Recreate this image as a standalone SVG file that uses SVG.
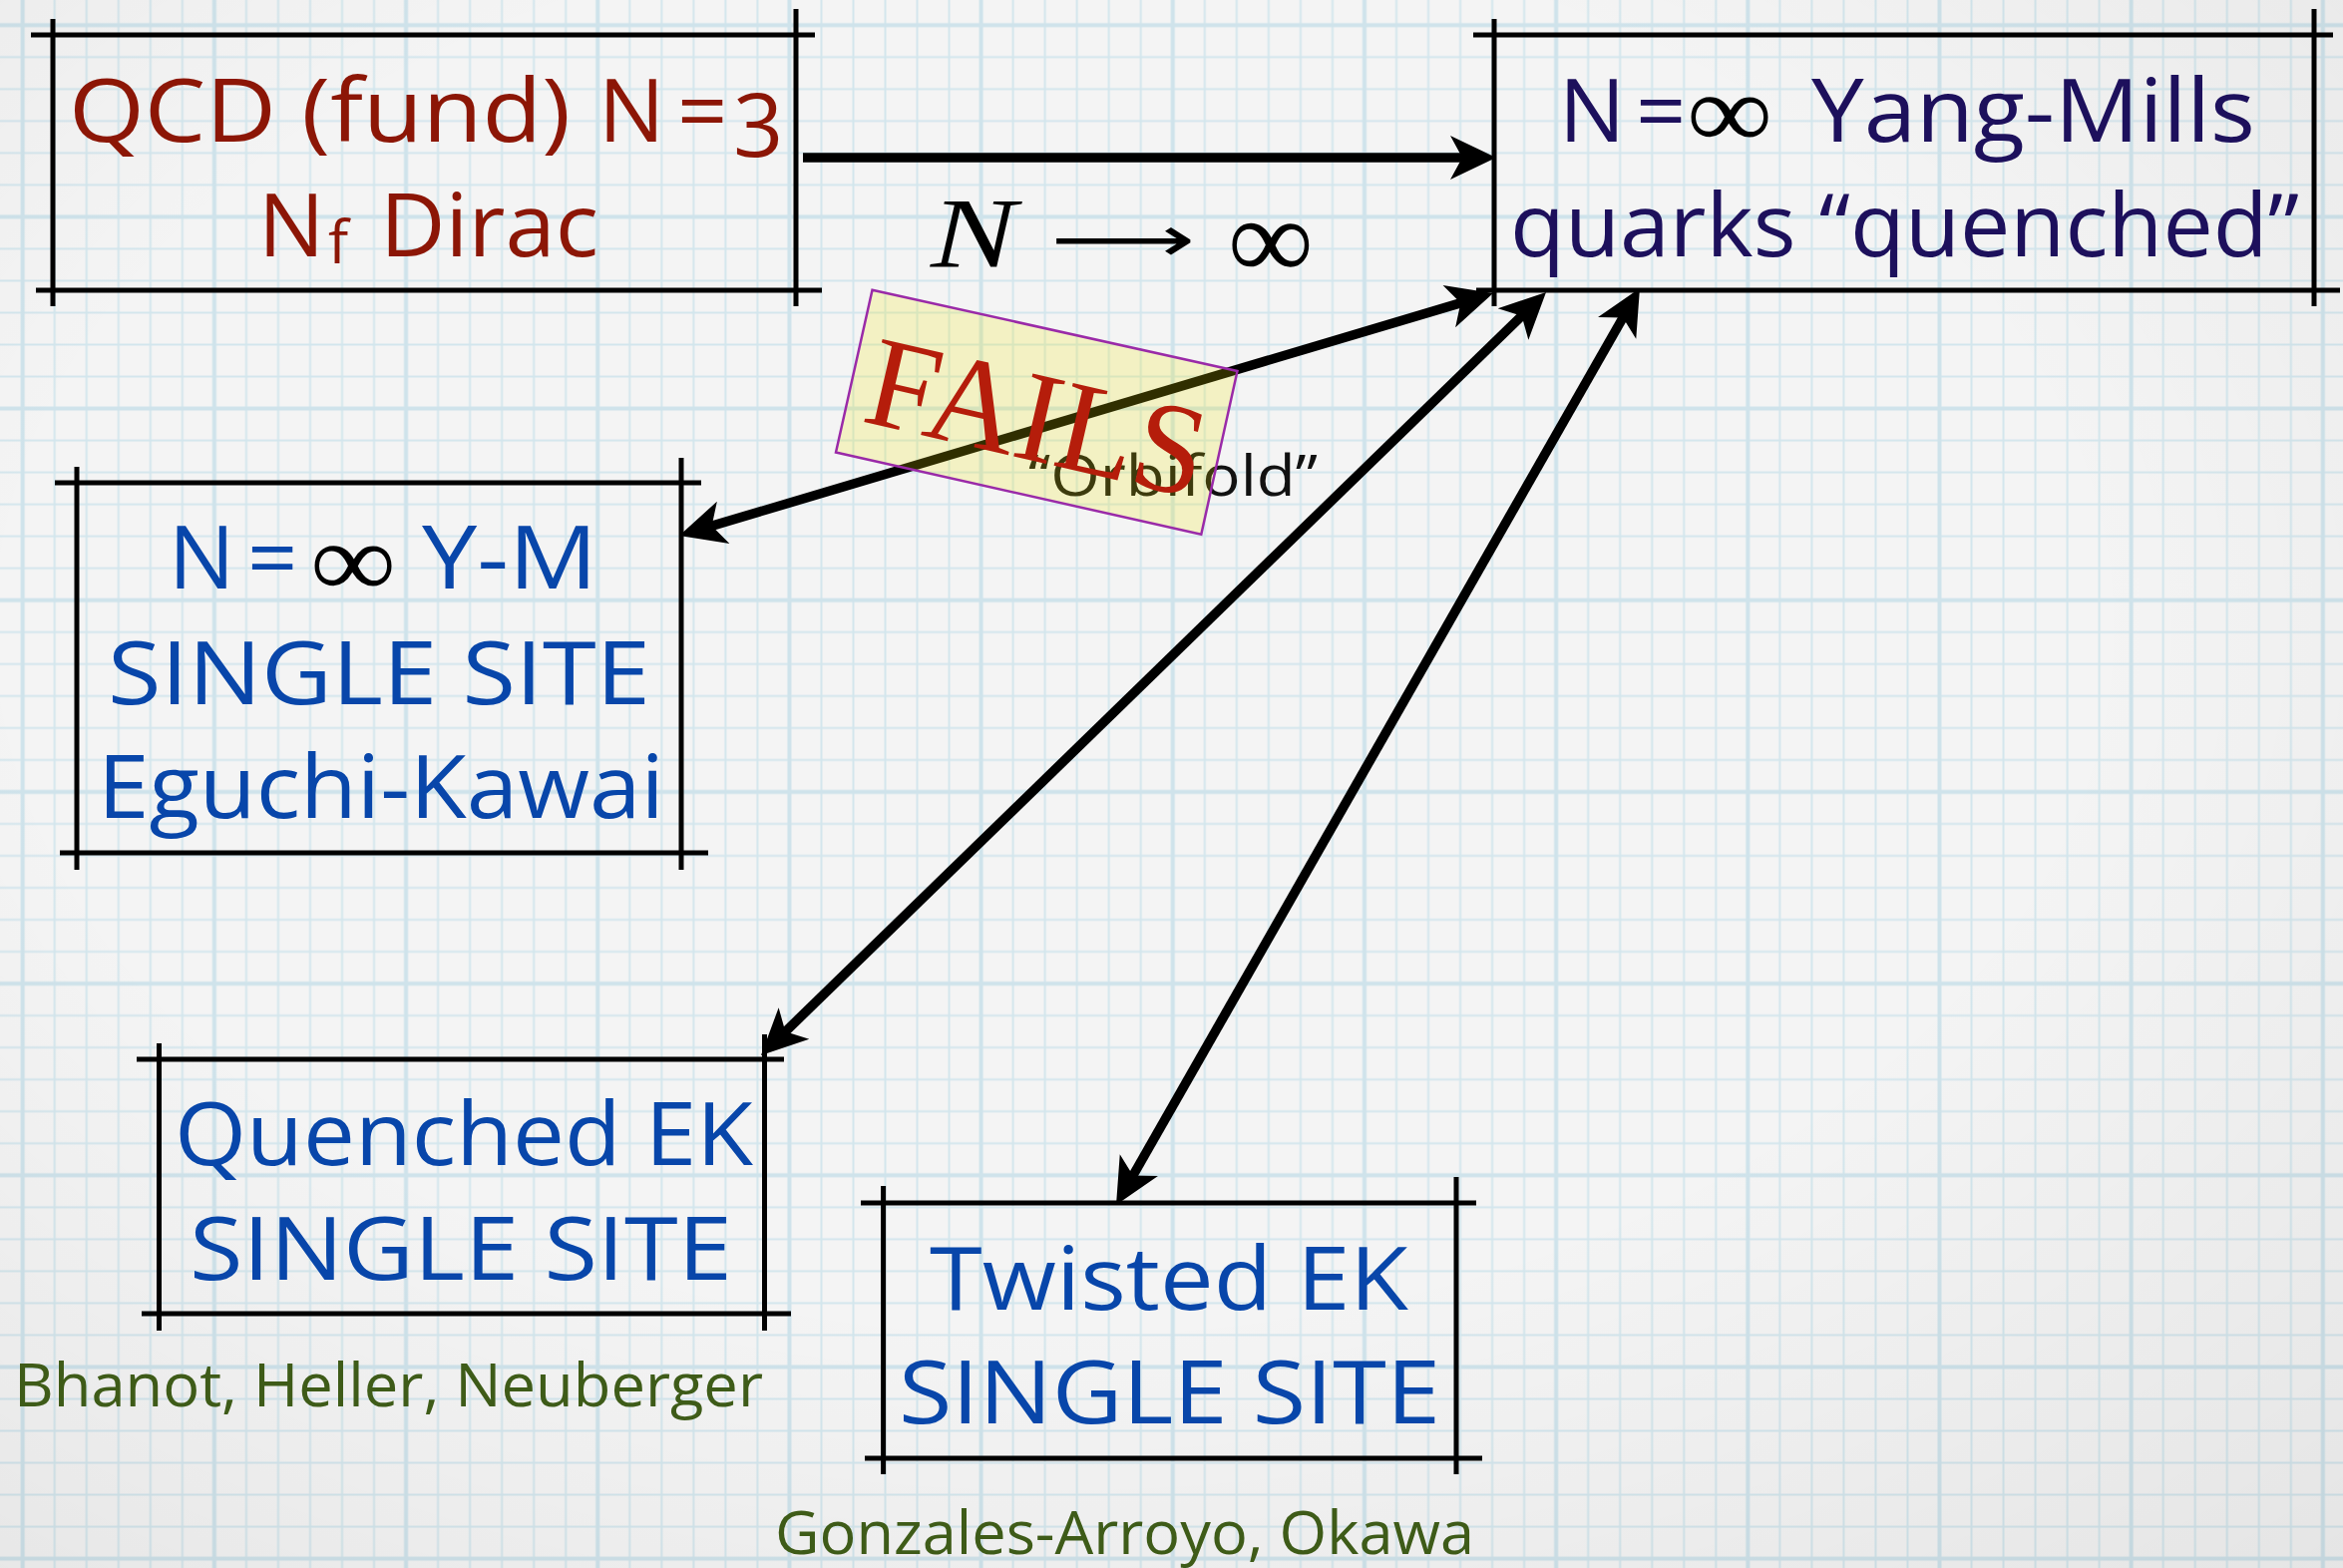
<svg xmlns="http://www.w3.org/2000/svg" width="2349" height="1572" viewBox="0 0 2349 1572">
  <defs>
    <style>
      .lbl { font-family: "Open Sans", "Noto Sans", sans-serif; font-size: 88px; font-weight: 400; }
      .cap { font-family: "Open Sans", "Noto Sans", sans-serif; font-size: 60px; font-weight: 400; }
      .red { fill: #8c1606; }
      .navy { fill: #1d105c; }
      .blue { fill: #0846aa; }
      .green { fill: #3e5b18; }
      .inf { font-family: "Liberation Serif", "DejaVu Serif", serif; fill: #000; font-size: 106px; }
      .edge { stroke: #000; stroke-width: 5; fill: none; }
      .conn { stroke: #000; stroke-width: 9.5; fill: none; }
    </style>
    <!-- fine graph-paper ruling -->
    <pattern id="gridFine" patternUnits="userSpaceOnUse" x="6.685" y="9.185" width="32.03" height="32.03">
      <path d="M16.015,0 V32.03 M0,16.015 H32.03" stroke="#d3e6ed" stroke-width="2" fill="none"/>
    </pattern>
    <!-- every sixth line slightly heavier -->
    <pattern id="gridBold" patternUnits="userSpaceOnUse" x="-73.39" y="-70.89" width="192.18" height="192.18">
      <path d="M96.09,0 V192.18 M0,96.09 H192.18" stroke="#cfe3eb" stroke-width="4" fill="none"/>
    </pattern>
    <radialGradient id="vignette" cx="0.45" cy="0.4" r="0.8">
      <stop offset="0.55" stop-color="#000" stop-opacity="0"/>
      <stop offset="1" stop-color="#000" stop-opacity="0.06"/>
    </radialGradient>
    <marker id="head" markerUnits="userSpaceOnUse" orient="auto-start-reverse" refX="0" refY="0" markerWidth="60" markerHeight="60" overflow="visible">
      <path d="M30,0 L-16,-22 L-4,0 L-16,22 Z" fill="#000"/>
    </marker>
  </defs>

  <!-- paper -->
  <rect width="2349" height="1572" fill="#f4f4f4"/>
  <rect width="2349" height="1572" fill="url(#gridFine)"/>
  <rect width="2349" height="1572" fill="url(#gridBold)"/>
  <rect width="2349" height="1572" fill="url(#vignette)"/>

  <!-- connectors -->
  <g id="connectors">
    <line class="conn" x1="805" y1="158" x2="1470" y2="158" marker-end="url(#head)"/>
    <line class="conn" x1="709.8" y1="528.4" x2="1468.2" y2="302.6" marker-start="url(#head)" marker-end="url(#head)"/>
    <line class="conn" x1="784.5" y1="1037.1" x2="1528.5" y2="313.9" marker-start="url(#head)" marker-end="url(#head)"/>
    <line class="conn" x1="1133.9" y1="1182" x2="1629.1" y2="315" marker-start="url(#head)" marker-end="url(#head)"/>
    <!-- limit label -->
    <g id="limit-label">
      <text x="933" y="267" textLength="86" lengthAdjust="spacingAndGlyphs" style="font-family:'Liberation Serif','DejaVu Serif',serif;font-style:italic;font-size:100px;fill:#000">N</text>
      <text x="1053" y="262" textLength="145" lengthAdjust="spacingAndGlyphs" style="font-family:'DejaVu Sans',sans-serif;font-size:64px;fill:#000">⟶</text>
      <text class="inf" x="1231" y="279" textLength="86" lengthAdjust="spacingAndGlyphs" style="font-size:115px">∞</text>
    </g>
    <text id="orbifold-label" x="1031" y="497" textLength="290" lengthAdjust="spacingAndGlyphs" style="font-family:'Open Sans','Noto Sans',sans-serif;font-weight:400;font-size:57px;fill:#111">“Orbifold”</text>
  </g>

  <!-- QCD box -->
  <g id="node-qcd">
    <path class="edge" d="M31,35 H817 M36,291 H824 M53,19 V307 M798,9 V307"/>
    <text class="lbl red" x="69" y="142" textLength="503" lengthAdjust="spacingAndGlyphs">QCD (fund)</text>
    <text class="lbl red" x="600" y="142">N</text>
    <text class="lbl red" x="679" y="142">=</text>
    <text class="lbl red" x="735" y="157">3</text>
    <text class="lbl red" x="259" y="257">N</text>
    <text class="red" x="329" y="264" style="font-family:'Open Sans','Noto Sans',sans-serif;font-size:60px">f</text>
    <text class="lbl red" x="381" y="257" textLength="219" lengthAdjust="spacingAndGlyphs">Dirac</text>
  </g>

  <!-- large-N Yang-Mills box -->
  <g id="node-ym">
    <path class="edge" d="M1477,35 H2339 M1480,291 H2346 M1498,19 V307 M2320,9 V307"/>
    <text class="lbl navy" x="1563" y="142">N</text>
    <text class="lbl navy" x="1640" y="142">=</text>
    <text class="inf" x="1691" y="148" textLength="86" lengthAdjust="spacingAndGlyphs">∞</text>
    <text class="lbl navy" x="1816" y="142" textLength="445" lengthAdjust="spacingAndGlyphs">Yang-Mills</text>
    <text class="lbl navy" x="1514" y="257" textLength="791" lengthAdjust="spacingAndGlyphs">quarks “quenched”</text>
  </g>

  <!-- Eguchi-Kawai box -->
  <g id="node-ek">
    <path class="edge" d="M55,484 H703 M60,855 H710 M77,468 V872 M683,459 V872"/>
    <text class="lbl blue" x="169" y="590">N</text>
    <text class="lbl blue" x="248" y="590">=</text>
    <text class="inf" x="311" y="598" textLength="86" lengthAdjust="spacingAndGlyphs">∞</text>
    <text class="lbl blue" x="423" y="590" textLength="176" lengthAdjust="spacingAndGlyphs">Y-M</text>
    <text class="lbl blue" x="108" y="706" textLength="544" lengthAdjust="spacingAndGlyphs">SINGLE SITE</text>
    <text class="lbl blue" x="98" y="820" textLength="568" lengthAdjust="spacingAndGlyphs">Eguchi-Kawai</text>
  </g>

  <!-- quenched EK box -->
  <g id="node-qek">
    <path class="edge" d="M137,1062 H786 M142,1317 H793 M159.5,1046 V1334 M766.5,1037 V1334"/>
    <text class="lbl blue" x="175" y="1168" textLength="580" lengthAdjust="spacingAndGlyphs">Quenched EK</text>
    <text class="lbl blue" x="190" y="1283" textLength="544" lengthAdjust="spacingAndGlyphs">SINGLE SITE</text>
    <text class="cap green" x="14" y="1410" textLength="751" lengthAdjust="spacingAndGlyphs">Bhanot, Heller, Neuberger</text>
  </g>

  <!-- twisted EK box -->
  <g id="node-tek">
    <path class="edge" d="M863,1206 H1480 M867,1462 H1486 M885.6,1189 V1478 M1460,1180 V1478"/>
    <text class="lbl blue" x="932" y="1313" textLength="480" lengthAdjust="spacingAndGlyphs">Twisted EK</text>
    <text class="lbl blue" x="901" y="1427" textLength="543" lengthAdjust="spacingAndGlyphs">SINGLE SITE</text>
    <text class="cap green" x="777" y="1558" textLength="701" lengthAdjust="spacingAndGlyphs">Gonzales-Arroyo, Okawa</text>
  </g>

  <!-- tinted stamp over the orbifold link -->
  <g id="stamp-fails">
    <polygon points="874.5,290.7 1240.5,372 1204.3,535.8 838,453.5" fill="#f0e800" fill-opacity="0.2" stroke="#9a2aa8" stroke-width="2.5"/>
    <text x="862" y="422" transform="rotate(13 862 422)" textLength="345" lengthAdjust="spacingAndGlyphs" style="font-family:'Liberation Serif','DejaVu Serif',serif;font-size:130px;fill:#b51d0b">FAILS</text>
  </g>
</svg>
